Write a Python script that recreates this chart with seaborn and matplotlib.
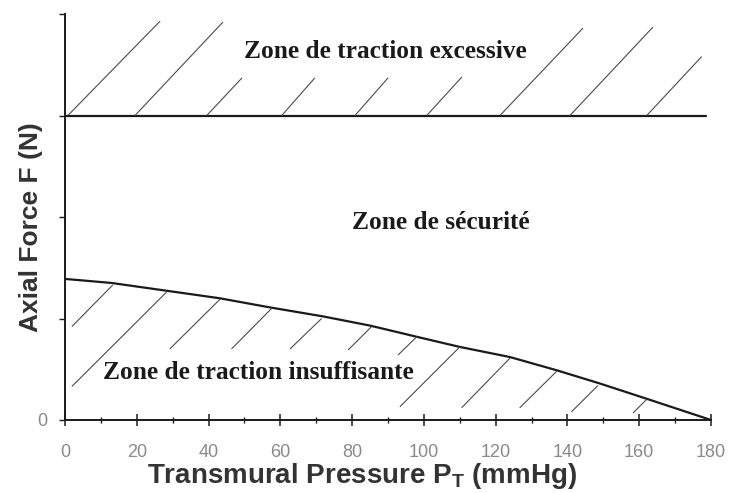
import matplotlib
matplotlib.use("Agg")
import matplotlib.pyplot as plt
import seaborn as sns
import pandas as pd

# Lower limit of axial force vs transmural pressure
pressure = [0, 13, 43, 57, 72, 85, 98, 110, 124, 137, 149, 162, 180]
force_min = [1.39, 1.35, 1.20, 1.11, 1.02, 0.93, 0.82, 0.72, 0.62, 0.49, 0.36, 0.21, 0.0]

# Upper limit (constant)
force_max = 3.0
upper_x = [0, 178.5]

x_ticks = [0, 20, 40, 60, 80, 100, 120, 140, 160, 180]
y_ticks = [0, 1, 2, 3, 4]
y_tick_labels = ["0", "", "", "", ""]

# Hand-drawn hatch strokes (x0, y0, x1, y1) above the upper limit
hatch_top = [
    (0.8, 3.0, 26.5, 3.93), (19.5, 3.0, 44.0, 3.92), (39.5, 3.0, 49.3, 3.37),
    (60.4, 3.0, 69.6, 3.37), (80.8, 3.0, 90.0, 3.37), (100.8, 3.0, 110.6, 3.38),
    (121.2, 3.0, 144.3, 3.86), (140.7, 3.0, 163.8, 3.87), (162.1, 3.0, 177.4, 3.58),
]
# Hatch strokes below the lower limit
hatch_bottom = [
    (1.9, 0.92, 13.3, 1.33), (1.9, 0.33, 28.3, 1.26), (29.2, 0.70, 43.2, 1.19),
    (46.4, 0.70, 57.6, 1.10), (62.7, 0.70, 71.5, 1.00), (78.9, 0.69, 85.4, 0.92),
    (92.8, 0.64, 98.0, 0.82), (93.3, 0.13, 110.0, 0.72), (110.5, 0.12, 124.0, 0.61),
    (126.7, 0.12, 137.0, 0.48), (141.1, 0.08, 148.5, 0.34), (158.3, 0.07, 162.0, 0.20),
]

zone_labels = ["Zone de traction excessive", "Zone de sécurité", "Zone de traction insuffisante"]

sns.set_theme(style="white")
plt.rcParams["font.family"] = ["Liberation Sans", "DejaVu Sans"]
plt.rcParams["mathtext.fontset"] = "custom"
plt.rcParams["mathtext.rm"] = "Liberation Sans"
plt.rcParams["mathtext.bf"] = "Liberation Sans:bold"

fig = plt.figure(figsize=(7.32, 4.93), dpi=100)
ax = fig.add_axes([65 / 732, 1 - 420 / 493, (711 - 65) / 732, (420 - 14) / 493])

line_col = "#1a1a1a"
hatch_col = "#4a4a4a"

curve = pd.DataFrame({"P": pressure, "F": force_min})
sns.lineplot(data=curve, x="P", y="F", ax=ax, color=line_col, linewidth=1.6)
sns.lineplot(x=upper_x, y=[force_max] * len(upper_x), ax=ax, color=line_col, linewidth=1.6)

for x0, y0, x1, y1 in hatch_top + hatch_bottom:
    ax.plot([x0, x1], [y0, y1], color=hatch_col, linewidth=0.8, solid_capstyle="butt")

serif = ["Liberation Serif", "DejaVu Serif"]
zone_style = dict(family=serif, fontweight="bold", fontsize=18.3, ha="center",
                  va="center", color="#1a1a1a")
ax.text(89.4, 3.63, zone_labels[0], **zone_style)
ax.text(104.7, 1.95, zone_labels[1], **zone_style)
ax.text(54, 0.47, zone_labels[2], **zone_style)

ax.set_xlim(0, 180)
ax.set_ylim(0, 4)
ax.set_xticks(x_ticks)
ax.set_xticks(range(10, 180, 20), minor=True)
ax.set_yticks(y_ticks)
ax.set_yticklabels(y_tick_labels)

for s in ["top", "right"]:
    ax.spines[s].set_visible(False)
for s in ["left", "bottom"]:
    ax.spines[s].set_color(line_col)
    ax.spines[s].set_linewidth(1.4)

ax.tick_params(axis="x", which="major", direction="inout", length=8, width=1.1,
               color=line_col, labelsize=13, labelcolor="#8a8a8a", pad=13, bottom=True)
ax.tick_params(axis="x", which="minor", direction="inout", length=4, width=1.0,
               color=line_col, bottom=True)
ax.tick_params(axis="y", which="major", direction="out", length=4, width=1.0,
               color=line_col, labelsize=13, labelcolor="#8a8a8a", pad=9, left=True)

ax.set_xlabel(r"Transmural Pressure P$_\mathbf{T}$ (mmHg)", fontsize=20,
              fontweight="bold", color="#333333")
ax.set_ylabel("Axial Force F (N)", fontsize=19, fontweight="bold", color="#333333")
ax.xaxis.set_label_coords(0.459, -0.102)
ax.yaxis.set_label_coords(-0.034, 0.474)

fig.savefig("out.png", dpi=100, facecolor="white")
